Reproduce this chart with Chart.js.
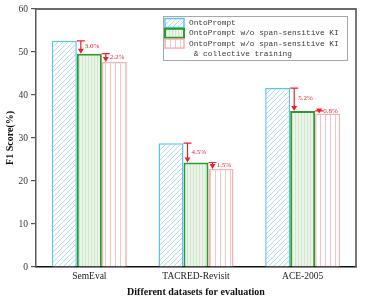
<!DOCTYPE html>
<html>
<head>
<meta charset="utf-8">
<script src="https://cdn.jsdelivr.net/npm/chart.js@4.4.1/dist/chart.umd.min.js"></script>
<style>
  html, body { margin: 0; padding: 0; background: #fff; }
  #wrap { width: 365px; height: 300px; }
</style>
</head>
<body>
<div id="wrap"><canvas id="chart"></canvas></div>
<script>
const DATASETS = ["SemEval", "TACRED-Revisit", "ACE-2005"];
const FULL_SCORES = [52.6, 28.8, 41.6];
const NO_KI_SCORES = [49.6, 24.3, 36.3];
const NO_KI_CT_SCORES = [47.7, 22.8, 35.7];
const DROP_KI = ["3.0%", "4.5%", "5.2%"];
const DROP_CT = ["2.2%", "1.5%", "0.8%"];
const LEGEND_LINES = [
  ["OntoPrompt"],
  ["OntoPrompt w/o span-sensitive KI"],
  ["OntoPrompt w/o span-sensitive KI", " & collective training"],
];

const SERIF = "'Liberation Serif', 'Times New Roman', serif";
const RED = "#e8232b";

function makePattern(kind) {
  const c = document.createElement("canvas");
  const ctx = c.getContext("2d");
  if (kind === "diag") {
    c.width = 5; c.height = 5;
    ctx.fillStyle = "#ffffff";
    ctx.fillRect(0, 0, 5, 5);
    ctx.strokeStyle = "rgba(120, 195, 240, 0.75)";
    ctx.lineWidth = 0.8;
    ctx.beginPath();
    ctx.moveTo(-1, 6); ctx.lineTo(6, -1);
    ctx.moveTo(-1, 1); ctx.lineTo(1, -1);
    ctx.moveTo(4, 6); ctx.lineTo(6, 4);
    ctx.stroke();
  } else if (kind === "dots") {
    c.width = 3; c.height = 3;
    ctx.fillStyle = "#ebf4e8";
    ctx.fillRect(0, 0, 3, 3);
    ctx.fillStyle = "#d2e7cd";
    ctx.fillRect(1, 0, 1, 3);
  } else {
    c.width = 5; c.height = 5;
    ctx.fillStyle = "#ffffff";
    ctx.fillRect(0, 0, 5, 5);
    ctx.fillStyle = "#f8c4c4";
    ctx.fillRect(0, 0, 1, 5);
  }
  return ctx.createPattern(c, "repeat");
}

const STYLES = [
  { fill: makePattern("diag"), border: "#5cc3f5", width: 1.5 },
  { fill: makePattern("dots"), border: "#2c9a2c", width: 2 },
  { fill: makePattern("vert"), border: "#f6b3b3", width: 1.5 },
];

function drawArrow(ctx, x, yTop, yBot, text, labelY) {
  ctx.save();
  ctx.strokeStyle = RED;
  ctx.fillStyle = RED;
  ctx.lineWidth = 1.2;
  ctx.beginPath();
  ctx.moveTo(x - 4, yTop); ctx.lineTo(x + 4, yTop);
  ctx.moveTo(x, yTop); ctx.lineTo(x, yBot - 4);
  ctx.stroke();
  ctx.beginPath();
  ctx.moveTo(x - 3, yBot - 5);
  ctx.lineTo(x + 3, yBot - 5);
  ctx.lineTo(x, yBot);
  ctx.closePath();
  ctx.fill();
  ctx.font = "7px " + SERIF;
  ctx.textAlign = "left";
  ctx.textBaseline = "middle";
  ctx.fillText(text, x + 4, labelY);
  ctx.restore();
}

const overlay = {
  id: "overlay",
  afterDatasetsDraw(chart) {
    const ctx = chart.ctx;
    const area = chart.chartArea;
    const y = chart.scales.y;
    const m0 = chart.getDatasetMeta(0).data;
    const m1 = chart.getDatasetMeta(1).data;
    const m2 = chart.getDatasetMeta(2).data;

    // frame: top and right
    ctx.save();
    ctx.strokeStyle = "#6a6a6a";
    ctx.lineWidth = 1.8;
    ctx.beginPath();
    ctx.moveTo(area.left, area.top);
    ctx.lineTo(area.right, area.top);
    ctx.lineTo(area.right, area.bottom);
    ctx.stroke();
    ctx.restore();

    DATASETS.forEach((_, i) => {
      const b0 = m0[i], b2 = m2[i];
      const x1 = b0.x + b0.width / 2 + 4;
      const t1 = y.getPixelForValue(FULL_SCORES[i]);
      const e1 = y.getPixelForValue(NO_KI_SCORES[i]);
      drawArrow(ctx, x1, t1, e1, DROP_KI[i], t1 + (e1 - t1) * 0.45);
      const x2 = b2.x - b2.width / 2 + 4;
      const e2 = y.getPixelForValue(NO_KI_CT_SCORES[i]);
      drawArrow(ctx, x2, e1, e2, DROP_CT[i], e1 + Math.max(0, (e2 - e1) * 0.5 - 1));
    });

    // legend
    const lx = 163, ly = 16, lw = 184, lh = 44;
    ctx.save();
    ctx.fillStyle = "#ffffff";
    ctx.fillRect(lx, ly, lw, lh);
    ctx.strokeStyle = "#a8a8a8";
    ctx.lineWidth = 1;
    ctx.strokeRect(lx + 0.5, ly + 0.5, lw, lh);
    ctx.font = "7.8px 'Liberation Mono', 'DejaVu Sans Mono', monospace";
    ctx.textBaseline = "middle";
    ctx.textAlign = "left";
    let row = 0;
    LEGEND_LINES.forEach((lines, i) => {
      const cy = ly + 7 + row * 10.3;
      const st = STYLES[i];
      ctx.fillStyle = st.fill;
      ctx.fillRect(lx + 2, cy - 4.5, 19, 9);
      ctx.strokeStyle = st.border;
      ctx.lineWidth = st.width;
      ctx.strokeRect(lx + 2, cy - 4.5, 19, 9);
      ctx.fillStyle = "#3a3a3a";
      lines.forEach((t, k) => {
        ctx.fillText(t, lx + 26, ly + 7 + (row + k) * 10.3);
      });
      row += lines.length;
    });
    ctx.restore();
  },
};

const ctx = document.getElementById("chart").getContext("2d");
new Chart(ctx, {
  type: "bar",
  data: {
    labels: DATASETS,
    datasets: [FULL_SCORES, NO_KI_SCORES, NO_KI_CT_SCORES].map((vals, i) => ({
      label: LEGEND_LINES[i].join(""),
      data: vals,
      backgroundColor: STYLES[i].fill,
      borderColor: STYLES[i].border,
      borderWidth: STYLES[i].width,
      categoryPercentage: 0.703,
      barPercentage: 1.0,
    })),
  },
  options: {
    responsive: true,
    maintainAspectRatio: false,
    animation: false,
    layout: { padding: { top: 9, right: 9, left: 0, bottom: 0 } },
    plugins: {
      legend: { display: false },
      tooltip: { enabled: false },
    },
    scales: {
      x: {
        afterFit: (s) => { s.height = 33; },
        grid: { display: false, drawTicks: false, tickLength: 0 },
        border: { color: "#111", width: 1.5 },
        ticks: { color: "#222", padding: 4, font: { family: SERIF, size: 9.5 } },
        title: {
          display: true,
          text: "Different datasets for evaluation",
          color: "#111",
          padding: { top: 0, bottom: 2 },
          font: { family: SERIF, size: 10, weight: "bold" },
        },
      },
      y: {
        min: 0,
        max: 60,
        afterFit: (s) => { s.width = 36; },
        grid: { display: true, drawOnChartArea: false, tickLength: 5, color: "#555", lineWidth: 1.2 },
        border: { color: "#5a5a5a", width: 1.5 },
        ticks: { stepSize: 10, color: "#333", padding: 3, font: { family: SERIF, size: 9.5 } },
        title: {
          display: true,
          text: "F1 Score(%)",
          color: "#111",
          padding: { top: 4, bottom: 0 },
          font: { family: SERIF, size: 10, weight: "bold" },
        },
      },
    },
  },
  plugins: [overlay],
});
</script>
</body>
</html>
